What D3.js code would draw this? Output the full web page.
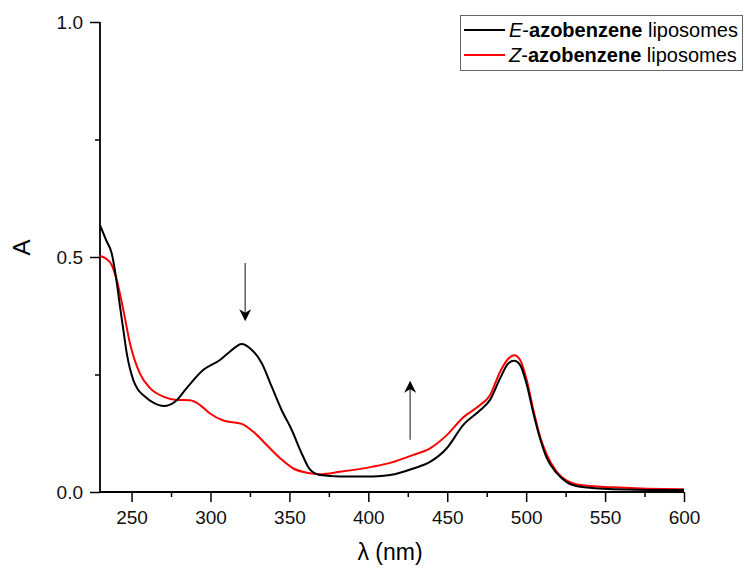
<!DOCTYPE html>
<html>
<head>
<meta charset="utf-8">
<script src="https://cdn.jsdelivr.net/npm/d3@7"></script>
<style>
  body { margin: 0; background: #fff; }
  svg { font-family: "Liberation Sans", Arial, sans-serif; }
</style>
</head>
<body>
<svg id="chart" width="744" height="568"></svg>
<script>
// wavelength (nm) and absorbance
const eWave = [230, 234, 237.4, 240, 242.7, 245, 246.9, 249, 251.1, 254, 257.5, 263.8, 270.6, 277.5, 284.9, 295.5, 306, 312.4, 319.8, 325, 332.5, 338.8, 345.1, 351.5, 357.8, 363, 369.4, 382, 403, 413.8, 428.5, 439.1, 449.7, 460.2, 470.8, 477.1, 483.5, 488.8, 492.4, 496.2, 500.4, 504.6, 508.8, 513.1, 519.4, 525.7, 534.2, 555.3, 597.5, 600];
const eAbs  = [0.568, 0.535, 0.508, 0.46, 0.394, 0.34, 0.296, 0.262, 0.238, 0.218, 0.206, 0.190, 0.183, 0.192, 0.221, 0.260, 0.281, 0.299, 0.315, 0.306, 0.274, 0.224, 0.174, 0.132, 0.082, 0.048, 0.036, 0.033, 0.033, 0.036, 0.050, 0.064, 0.093, 0.143, 0.174, 0.196, 0.242, 0.274, 0.279, 0.270, 0.228, 0.167, 0.114, 0.072, 0.040, 0.021, 0.011, 0.006, 0.004, 0.004];

const zWave = [230, 234, 237.4, 240.6, 244.8, 249, 255.3, 261.7, 270.1, 278.6, 287, 293.4, 299.7, 308.1, 319.8, 327.2, 335.6, 344.1, 352.5, 361, 369.4, 382, 403, 413.8, 428.5, 439.1, 449.7, 460.2, 470.8, 477.1, 483.5, 488.8, 492.4, 496.2, 500.4, 504.6, 508.8, 513.1, 519.4, 525.7, 534.2, 555.3, 597.5, 600];
const zAbs  = [0.502, 0.496, 0.483, 0.451, 0.387, 0.316, 0.252, 0.221, 0.203, 0.196, 0.195, 0.185, 0.167, 0.152, 0.145, 0.128, 0.100, 0.072, 0.050, 0.041, 0.038, 0.043, 0.054, 0.062, 0.079, 0.093, 0.121, 0.159, 0.185, 0.206, 0.256, 0.284, 0.291, 0.281, 0.238, 0.174, 0.118, 0.079, 0.043, 0.024, 0.015, 0.010, 0.006, 0.006];

const seriesNames = ["E", "Z"];
const seriesColors = ["#000000", "#ff0000"];
const xTicks = [250, 300, 350, 400, 450, 500, 550, 600];
const yTicks = [0.0, 0.5, 1.0];

// arrows: [wavelength, from A, to A]
const arrowDown = [322, 0.487, 0.366];
const arrowUp = [426.5, 0.111, 0.234];

const svg = d3.select("#chart");
const margin = {left: 100, top: 22, right: 60, bottom: 76};
const W = 744, H = 568;

const x = d3.scaleLinear().domain([230, 600]).range([margin.left, 684]);
const y = d3.scaleLinear().domain([0, 1]).range([H - margin.bottom, margin.top]);

// x axis
const xAxis = d3.axisBottom(x)
  .tickValues(d3.range(250, 601, 25))
  .tickSize(10)
  .tickFormat(d => xTicks.includes(d) ? d : "");
const gx = svg.append("g")
  .attr("transform", "translate(0," + y(0) + ")")
  .call(xAxis);
gx.select(".domain").attr("d", "M" + x(230) + ",0H" + x(600)).attr("stroke-width", 1.8);
gx.selectAll(".tick line").attr("stroke-width", 1.5).attr("y2", d => xTicks.includes(d) ? 10 : 5);
gx.selectAll(".tick text").attr("font-size", "19px").attr("fill", "#111")
  .attr("y", 32).attr("dy", 0)
  .attr("font-family", "Liberation Sans, Arial, sans-serif");

// y axis
const yAxis = d3.axisLeft(y)
  .tickValues([0, 0.25, 0.5, 0.75, 1.0])
  .tickSize(10)
  .tickFormat(d => yTicks.includes(d) ? d3.format(".1f")(d) : "");
const gy = svg.append("g")
  .attr("transform", "translate(" + x(230) + ",0)")
  .call(yAxis);
gy.select(".domain").attr("d", "M0," + y(0) + "V" + y(1)).attr("stroke-width", 1.8);
gy.selectAll(".tick line").attr("stroke-width", 1.5).attr("x2", d => yTicks.includes(d) ? -10 : -5);
gy.selectAll(".tick text").attr("font-size", "19px").attr("fill", "#111").attr("x", -17)
  .attr("font-family", "Liberation Sans, Arial, sans-serif");

// axis titles
svg.append("text")
  .attr("transform", "translate(30," + y(0.52) + ") rotate(-90)")
  .attr("text-anchor", "middle")
  .attr("font-size", "24px")
  .text("A");
svg.append("text")
  .attr("x", 390).attr("y", 560)
  .attr("text-anchor", "middle")
  .attr("font-size", "23px")
  .text("λ (nm)");

// spectra
const line = d3.line()
  .x(d => x(d[0]))
  .y(d => y(d[1]))
  .curve(d3.curveMonotoneX);

svg.append("path")
  .datum(d3.zip(zWave, zAbs))
  .attr("fill", "none")
  .attr("stroke", seriesColors[1])
  .attr("stroke-width", 2)
  .attr("d", line);
svg.append("path")
  .datum(d3.zip(eWave, eAbs))
  .attr("fill", "none")
  .attr("stroke", seriesColors[0])
  .attr("stroke-width", 2)
  .attr("d", line);

// arrows
const defs = svg.append("defs");
defs.append("marker")
  .attr("id", "head")
  .attr("viewBox", "0 0 10 10")
  .attr("refX", 9).attr("refY", 5)
  .attr("markerWidth", 12).attr("markerHeight", 14)
  .attr("markerUnits", "userSpaceOnUse")
  .attr("orient", "auto")
  .append("path")
  .attr("d", "M0,0L10,5L0,10L3,5Z")
  .attr("fill", "#000");

[arrowDown, arrowUp].forEach(a => {
  svg.append("line")
    .attr("x1", x(a[0])).attr("x2", x(a[0]))
    .attr("y1", y(a[1])).attr("y2", y(a[2]))
    .attr("stroke", "#555")
    .attr("stroke-width", 1.4)
    .attr("marker-end", "url(#head)");
});

// legend
const lg = svg.append("g").attr("transform", "translate(460,15)");
lg.append("rect")
  .attr("x", 0.5).attr("y", 0.5)
  .attr("width", 282).attr("height", 55)
  .attr("fill", "#fff")
  .attr("stroke", "#666")
  .attr("stroke-width", 1);
seriesNames.forEach((n, i) => {
  const yy = 15 + i * 25;
  lg.append("line")
    .attr("x1", 4).attr("x2", 45)
    .attr("y1", yy).attr("y2", yy)
    .attr("stroke", seriesColors[i])
    .attr("stroke-width", 2);
  const t = lg.append("text")
    .attr("x", 49).attr("y", yy + 7)
    .attr("font-size", "20px");
  t.append("tspan").attr("font-style", "italic").text(n);
  t.append("tspan").text("-");
  t.append("tspan").attr("font-weight", "bold").text("azobenzene");
  t.append("tspan").text(" liposomes");
});
</script>
</body>
</html>
